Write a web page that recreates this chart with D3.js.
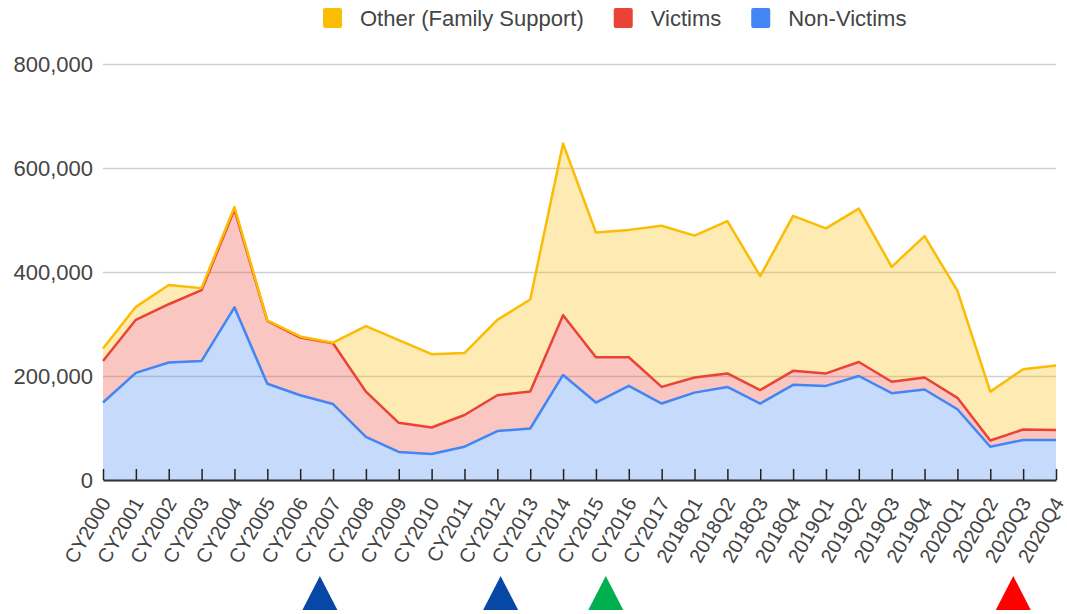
<!DOCTYPE html>
<html>
<head>
<meta charset="utf-8">
<script src="https://cdn.jsdelivr.net/npm/d3@7"></script>
<style>
  body { margin: 0; background: #fff; }
  text { font-family: "Liberation Sans", Arial, sans-serif; }
</style>
</head>
<body>
<script>
// data
var categories = ["CY2000","CY2001","CY2002","CY2003","CY2004","CY2005","CY2006","CY2007","CY2008","CY2009",
  "CY2010","CY2011","CY2012","CY2013","CY2014","CY2015","CY2016","CY2017",
  "2018Q1","2018Q2","2018Q3","2018Q4","2019Q1","2019Q2","2019Q3","2019Q4",
  "2020Q1","2020Q2","2020Q3","2020Q4"];
var nonVictims = [149000,206000,226000,229000,332000,185000,163000,146000,83000,54000,
  50000,64000,94000,99000,202000,149000,181000,147000,
  168000,179000,147000,183000,181000,200000,167000,174000,
  136000,64000,77000,77000];
var victims = [80000,102000,112000,136000,188000,121000,111000,117000,87000,56000,
  51000,61000,69000,71000,115000,87000,55000,32000,
  29000,26000,26000,27000,24000,27000,22000,23000,
  22000,12000,20000,19000];
var other = [24000,25000,37000,4000,5000,1000,2000,1000,126000,159000,
  141000,119000,145000,177000,330000,240000,245000,310000,
  273000,293000,219000,298000,279000,295000,221000,272000,
  206000,94000,116000,124000];
var yTicks = [0, 200000, 400000, 600000, 800000];
var seriesNames = ["Non-Victims", "Victims", "Other (Family Support)"];
var seriesColors = ["#4285f4", "#ea4335", "#fbbc04"];
// annotation triangles under the axis, position in category units
var markerPos = [6.6, 12.1, 15.3, 27.7];
var markerColors = ["#0747a6", "#0747a6", "#00b050", "#ff0000"];

var width = 1067;
var height = 614;
var svg = d3.select("body").append("svg")
  .attr("width", width)
  .attr("height", height);

var m = {left: 103, right: 1056, top: 64, bottom: 480};

var x = d3.scalePoint().domain(categories).range([m.left, m.right]);
var xi = d3.scaleLinear().domain([0, categories.length - 1]).range([m.left, m.right]);
var y = d3.scaleLinear().domain([0, 800000]).range([m.bottom, m.top]);

var rows = categories.map(function(c, i) {
  return {cat: c, "Non-Victims": nonVictims[i], "Victims": victims[i], "Other (Family Support)": other[i]};
});
var stacked = d3.stack().keys(seriesNames)(rows);

// gridlines + y labels
var yAxis = svg.append("g")
  .attr("transform", "translate(" + m.left + ",0)")
  .call(d3.axisLeft(y).tickValues(yTicks).tickFormat(d3.format(",")).tickSize(-(m.right - m.left)).tickPadding(10));
yAxis.select(".domain").remove();
yAxis.selectAll(".tick line").attr("stroke", "#d0d0d0").attr("stroke-width", 1.5);
yAxis.selectAll(".tick text").attr("fill", "#444").style("font-size", "22px");

// areas
var area = d3.area()
  .x(function(d) { return x(d.data.cat); })
  .y0(function(d) { return y(d[0]); })
  .y1(function(d) { return y(d[1]); });
var line = d3.line()
  .x(function(d) { return x(d.data.cat); })
  .y(function(d) { return y(d[1]); });

svg.selectAll(".area").data(stacked).enter().append("path")
  .attr("class", "area")
  .attr("d", area)
  .attr("fill", function(d, i) { return seriesColors[i]; })
  .attr("fill-opacity", 0.3);

svg.selectAll(".line").data(stacked).enter().append("path")
  .attr("class", "line")
  .attr("d", line)
  .attr("fill", "none")
  .attr("stroke", function(d, i) { return seriesColors[i]; })
  .attr("stroke-width", 2.5)
  .attr("stroke-linejoin", "round");

// x axis with ticks pointing up
var xAxis = svg.append("g")
  .attr("transform", "translate(0," + m.bottom + ")")
  .call(d3.axisBottom(x).tickSizeInner(-11).tickSizeOuter(0));
xAxis.select(".domain").attr("stroke", "#333").attr("stroke-width", 2);
xAxis.selectAll(".tick line").attr("stroke", "#222").attr("stroke-width", 1.5);
xAxis.selectAll(".tick text")
  .attr("fill", "#444")
  .style("font-size", "20px")
  .attr("text-anchor", "end")
  .attr("y", 0).attr("dy", "0.35em")
  .attr("transform", "translate(2,19) rotate(-60)");

// legend
var legendOrder = [2, 1, 0];
var lg = svg.append("g");
var lx = 323;
legendOrder.forEach(function(si) {
  lg.append("rect").attr("x", lx).attr("y", 8).attr("width", 19).attr("height", 20)
    .attr("rx", 2).attr("fill", seriesColors[si]);
  var t = lg.append("text").attr("x", lx + 37).attr("y", 18).attr("dy", "0.35em")
    .attr("fill", "#444").style("font-size", "22px").text(seriesNames[si]);
  lx += 37 + t.node().getComputedTextLength() + 30;
});

// triangles
svg.selectAll(".marker").data(markerPos).enter().append("path")
  .attr("class", "marker")
  .attr("d", function(p) {
    var cx = xi(p);
    return "M" + (cx - 17.5) + ",610L" + cx + ",576L" + (cx + 17.5) + ",610Z";
  })
  .attr("fill", function(d, i) { return markerColors[i]; });
</script>
</body>
</html>
